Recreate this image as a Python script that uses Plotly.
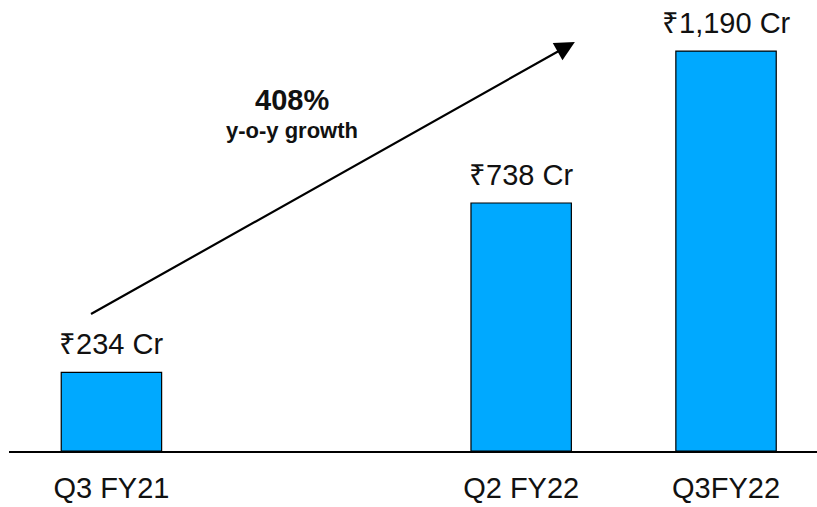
import plotly.graph_objects as go

# Revenue by quarter (₹ crore); the blank slot keeps the gap between FY21 and FY22
quarters = ["Q3 FY21", "Q2 FY22", "Q3FY22"]
slots = ["Q3 FY21", " ", "Q2 FY22", "Q3FY22"]
revenue = [234, 738, 1190]
growth_pct = 408

BAR_BLUE = "#00A9FF"
FONT = "Liberation Sans, Arial, sans-serif"
Y_MAX = 1342

fig = go.Figure()
fig.add_trace(go.Bar(
    x=quarters,
    y=revenue,
    width=0.49,
    marker=dict(color=BAR_BLUE, line=dict(color="black", width=1.2)),
    hoverinfo="skip",
))

# value labels above each bar
for q, v in zip(quarters, revenue):
    fig.add_annotation(
        x=q, y=v, xref="x", yref="y",
        text=f"₹{v:,} Cr", showarrow=False,
        yanchor="bottom", yshift=10,
        font=dict(family=FONT, size=29, color="#111"),
    )

# growth arrow from the first bar to the last
fig.add_annotation(
    x=2.262, y=1217, ax=-0.107, ay=405,
    xref="x", yref="y", axref="x", ayref="y",
    text="", showarrow=True,
    arrowhead=2, arrowsize=1.8, arrowwidth=2.2, arrowcolor="black",
)
fig.add_annotation(
    x=0.88, y=0.778, xref="x", yref="paper", yanchor="middle",
    text=f"<b>{growth_pct}%</b>", showarrow=False,
    font=dict(family=FONT, size=29, color="#111"),
)
fig.add_annotation(
    x=0.88, y=0.710, xref="x", yref="paper", yanchor="middle",
    text="<b>y-o-y growth</b>", showarrow=False,
    font=dict(family=FONT, size=22, color="#111"),
)

fig.update_layout(
    width=817, height=507,
    margin=dict(l=9, r=0, t=0, b=56),
    paper_bgcolor="white", plot_bgcolor="white",
    showlegend=False,
    xaxis=dict(
        type="category", categoryorder="array", categoryarray=slots,
        range=[-0.5, 3.444],
        showline=True, linecolor="black", linewidth=2,
        showgrid=False, ticks="", ticklabelstandoff=10,
        tickfont=dict(family=FONT, size=29, color="#111"),
        automargin=False, fixedrange=True,
    ),
    yaxis=dict(range=[0, Y_MAX], visible=False, fixedrange=True),
)

fig.write_html("out.html")
